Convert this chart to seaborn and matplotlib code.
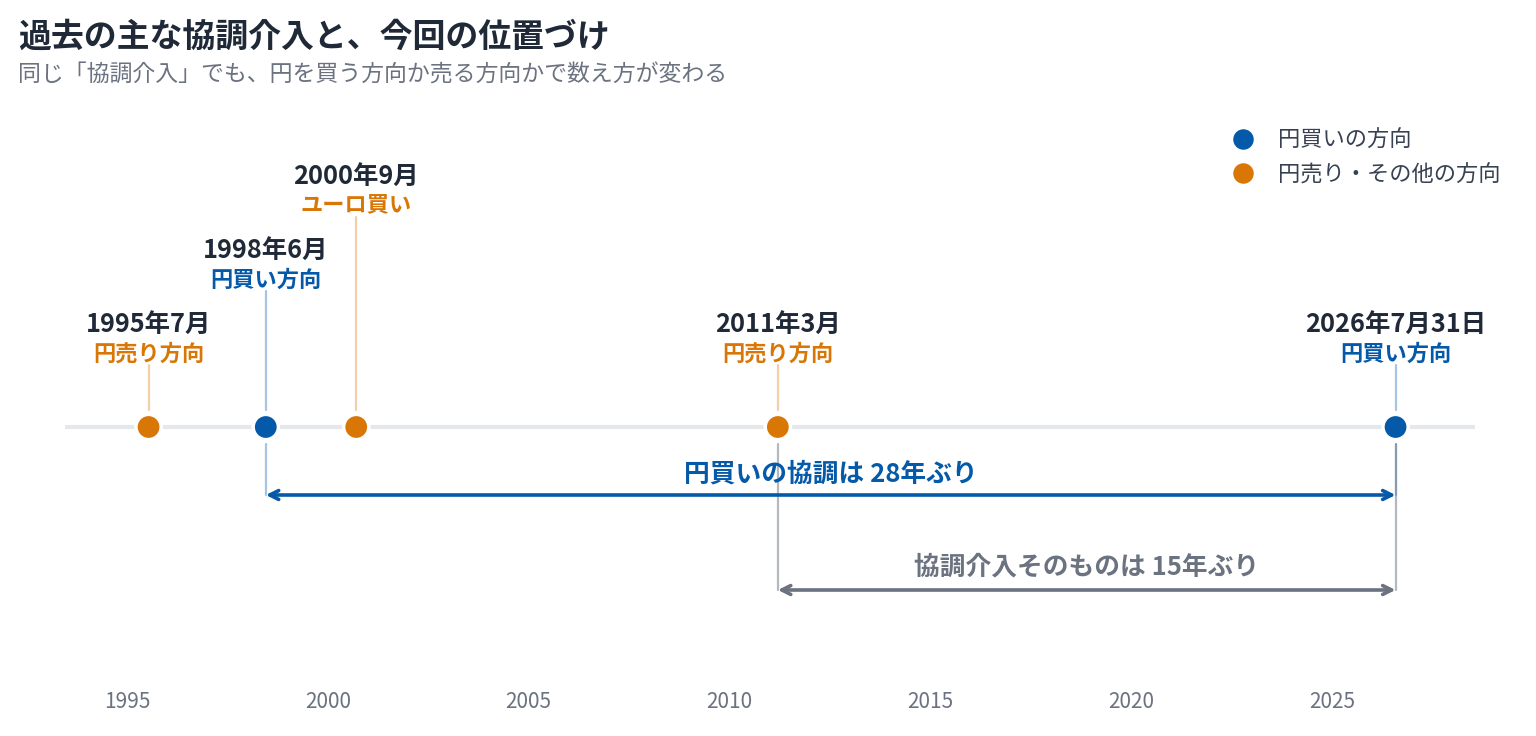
import matplotlib
matplotlib.use("Agg")
import matplotlib.pyplot as plt
import seaborn as sns
import pandas as pd

# --- data ---
ev_year = [1995, 1998, 2000, 2011, 2026]
ev_month = [7, 6, 9, 3, 7]
ev_day = [15, 15, 15, 15, 31]
date_labels = ["1995年7月", "1998年6月", "2000年9月", "2011年3月", "2026年7月31日"]
kind_labels = ["円売り方向", "円買い方向", "ユーロ買い", "円売り方向", "円買い方向"]
direction = ["円売り・その他の方向", "円買いの方向", "円売り・その他の方向", "円売り・その他の方向", "円買いの方向"]
tier = [0, 1, 2, 0, 0]
xticks = [1995, 2000, 2005, 2010, 2015, 2020, 2025]
span_buy = ("円買いの協調は 28年ぶり", 1, 4)
span_any = ("協調介入そのものは 15年ぶり", 3, 4)

BLUE = "#0459a8"
ORANGE = "#d97706"
GRAY = "#6b7280"
DARK = "#1f2937"
palette = {"円買いの方向": BLUE, "円売り・その他の方向": ORANGE}

days_in_month = [31, 28, 31, 30, 31, 30, 31, 31, 30, 31, 30, 31]
def decimal_year(y, m, d):
    return y + (sum(days_in_month[:m - 1]) + d) / 365.0

df = pd.DataFrame({
    "year": [decimal_year(y, m, d) for y, m, d in zip(ev_year, ev_month, ev_day)],
    "date": date_labels,
    "kind": kind_labels,
    "direction": direction,
    "tier": tier,
})
df["pos"] = 0

sns.set_theme(style="white")
plt.rcParams["font.family"] = ["Noto Sans CJK JP", "DejaVu Sans"]

fig = plt.figure(figsize=(15.36, 7.36), dpi=100)
ax = fig.add_axes([0, 51 / 736, 1, 685 / 736])
ax.set_xlim(1991.838, 2030.077)
ax.set_ylim(-258, 427)

# baseline
ax.plot([1993.45, 2028.55], [0, 0], color="#e5e7eb", lw=3, zorder=1, solid_capstyle="butt")

step = 74
for _, r in df.iterrows():
    c = palette[r["direction"]]
    top = 62 + step * r["tier"]
    ax.plot([r["year"], r["year"]], [17, top], color=c, alpha=0.35, lw=1.6, zorder=2)
    ax.text(r["year"], 73 + step * r["tier"], r["kind"], color=c, fontsize=16,
            fontweight="bold", ha="center", va="center")
    ax.text(r["year"], 103 + step * r["tier"], r["date"], color=DARK, fontsize=18.3,
            fontweight="bold", ha="center", va="center")

sns.scatterplot(data=df, x="year", y="pos", hue="direction", palette=palette,
                hue_order=["円買いの方向", "円売り・その他の方向"],
                s=330, edgecolor="white", linewidth=2.5, zorder=5, ax=ax)

# spans below the timeline
spans = [(span_buy, -68, BLUE, 0.35, 21), (span_any, -163, GRAY, 0.5, 23)]
for (label, i0, i1), yy, c, a, dy in spans:
    x0, x1 = df["year"][i0], df["year"][i1]
    for x in (x0, x1):
        ax.plot([x, x], [-17, yy], color=c, alpha=a, lw=1.6, zorder=2)
    ax.annotate("", xy=(x1, yy), xytext=(x0, yy),
                arrowprops=dict(arrowstyle="<->", color=c, lw=2.6,
                                mutation_scale=16, shrinkA=0, shrinkB=0))
    ax.text((x0 + x1) / 2, yy + dy, label, color=c, fontsize=18.5,
            fontweight="bold", ha="center", va="center")

ax.set_xticks(xticks)
ax.set_xticklabels([str(t) for t in xticks])
ax.tick_params(axis="x", length=0, pad=4, labelsize=15, labelcolor=GRAY)
ax.set_yticks([])
ax.set_xlabel("")
ax.set_ylabel("")
sns.despine(ax=ax, left=True, bottom=True)

leg = ax.legend(loc="upper right", bbox_to_anchor=(1520 / 1536, 1 - 109 / 736),
                bbox_transform=fig.transFigure, frameon=False, fontsize=16,
                handletextpad=0.55, labelspacing=0.5, markerscale=0.95)
for t in leg.get_texts():
    t.set_color("#374151")

fig.text(18 / 1536, 1 - 37 / 736, "過去の主な協調介入と、今回の位置づけ", fontsize=23.7,
         fontweight="bold", color=DARK, ha="left", va="center")
fig.text(18 / 1536, 1 - 75 / 736, "同じ「協調介入」でも、円を買う方向か売る方向かで数え方が変わる",
         fontsize=16.5, color=GRAY, ha="left", va="center")

fig.savefig("out.png", dpi=100)
